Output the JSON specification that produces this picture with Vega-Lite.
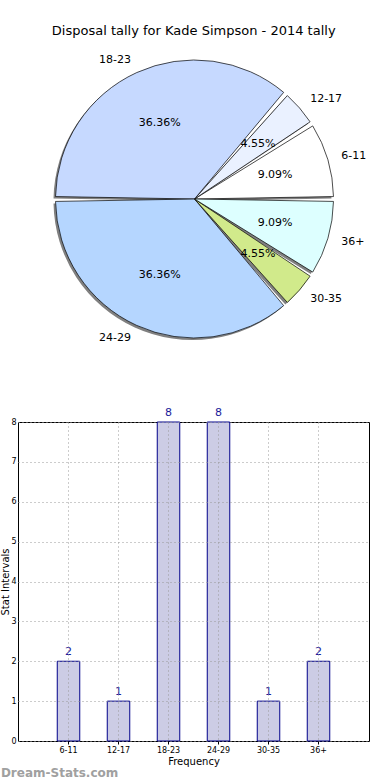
{
  "$schema": "https://vega.github.io/schema/vega-lite/v6.json",
  "padding": {"top": 25, "left": 0, "right": 5, "bottom": 0},
  "background": "white",
  "title": {"text": "Disposal tally for Kade Simpson - 2014 tally", "fontSize": 13, "fontWeight": "normal", "color": "black", "anchor": "middle", "offset": 6, "dx": 8},
  "datasets": {
    "tally": [
      {"age": "6-11", "idx": 0, "count": 2, "pct": "9.09%"},
      {"age": "12-17", "idx": 1, "count": 1, "pct": "4.55%"},
      {"age": "18-23", "idx": 2, "count": 8, "pct": "36.36%"},
      {"age": "24-29", "idx": 3, "count": 8, "pct": "36.36%"},
      {"age": "30-35", "idx": 4, "count": 1, "pct": "4.55%"},
      {"age": "36+", "idx": 5, "count": 2, "pct": "9.09%"}
    ]
  },
  "spacing": 52,
  "vconcat": [
    {
      "width": 353,
      "height": 310,
      "data": {"name": "tally"},
      "encoding": {
        "theta": {"field": "count", "type": "quantitative", "stack": true, "scale": {"range": [1.5708, -4.7124]}},
        "order": {"field": "idx", "type": "quantitative"}
      },
      "layer": [
        {"mark": {"type": "arc", "outerRadius": 139, "padAngle": 0.035, "fill": "#808080", "xOffset": -2, "yOffset": 2}},
        {"mark": {"type": "arc", "outerRadius": 139, "padAngle": 0.035, "stroke": "black", "strokeWidth": 0.7},
         "encoding": {"color": {"field": "age", "type": "nominal", "legend": null,
           "scale": {"domain": ["6-11", "12-17", "18-23", "24-29", "30-35", "36+"],
                     "range": ["#ffffff", "#eaf1ff", "#c6d9ff", "#b5d6ff", "#d1ea8b", "#ddffff"]}}}},
        {"mark": {"type": "text", "radius": 84, "fontSize": 11, "color": "black"},
         "encoding": {"text": {"field": "pct"}}},
        {"mark": {"type": "text", "radius": 153, "fontSize": 11, "color": "black", "align": "left", "baseline": "middle"},
         "encoding": {"text": {"condition": {"test": "datum.age != '18-23' && datum.age != '24-29'", "field": "age"}, "value": ""}}},
        {"mark": {"type": "text", "radius": 153, "fontSize": 11, "color": "black", "align": "right", "baseline": "middle"},
         "encoding": {"text": {"condition": {"test": "datum.age == '18-23' || datum.age == '24-29'", "field": "age"}, "value": ""}}}
      ]
    },
    {
      "width": 351,
      "height": 319,
      "data": {"name": "tally"},
      "title": {"text": "Dream-Stats.com", "orient": "bottom", "anchor": "start", "frame": "bounds", "color": "#a0a0a0", "fontSize": 12, "fontWeight": "bold", "offset": 2},
      "encoding": {
        "x": {"field": "age", "type": "nominal", "sort": null,
              "scale": {"paddingInner": 0.55, "paddingOuter": 0.785},
              "axis": {"title": "Frequency", "titleFontSize": 10, "titleFontWeight": "normal", "titlePadding": 2, "labelAngle": 0, "labelFontSize": 8, "labelColor": "black", "tickSize": 3, "tickColor": "black", "domain": false,
                       "grid": true, "bandPosition": 0.5, "gridDash": [1, 3], "gridColor": "#999", "zindex": 1}},
        "y": {"field": "count", "type": "quantitative", "scale": {"domain": [0, 8]},
              "axis": {"title": "Stat Intervals", "titleFontSize": 10, "titleFontWeight": "normal", "titlePadding": 0, "values": [0, 1, 2, 3, 4, 5, 6, 7, 8], "labelFontSize": 8, "labelColor": "black", "labelPadding": 2, "tickSize": 0, "domain": false,
                       "grid": true, "gridDash": [1, 3], "gridColor": "#999", "zindex": 1}}
      },
      "layer": [
        {"mark": {"type": "bar", "fill": "#cccce5", "stroke": "#00008b", "strokeWidth": 1}},
        {"mark": {"type": "text", "dy": -4, "baseline": "bottom", "fontSize": 11, "color": "#1a1a9a"},
         "encoding": {"text": {"field": "count", "type": "quantitative"}}}
      ]
    }
  ],
  "config": {
    "font": "DejaVu Sans",
    "view": {"stroke": "black", "strokeWidth": 1},
    "axis": {"titleColor": "black"}
  }
}
